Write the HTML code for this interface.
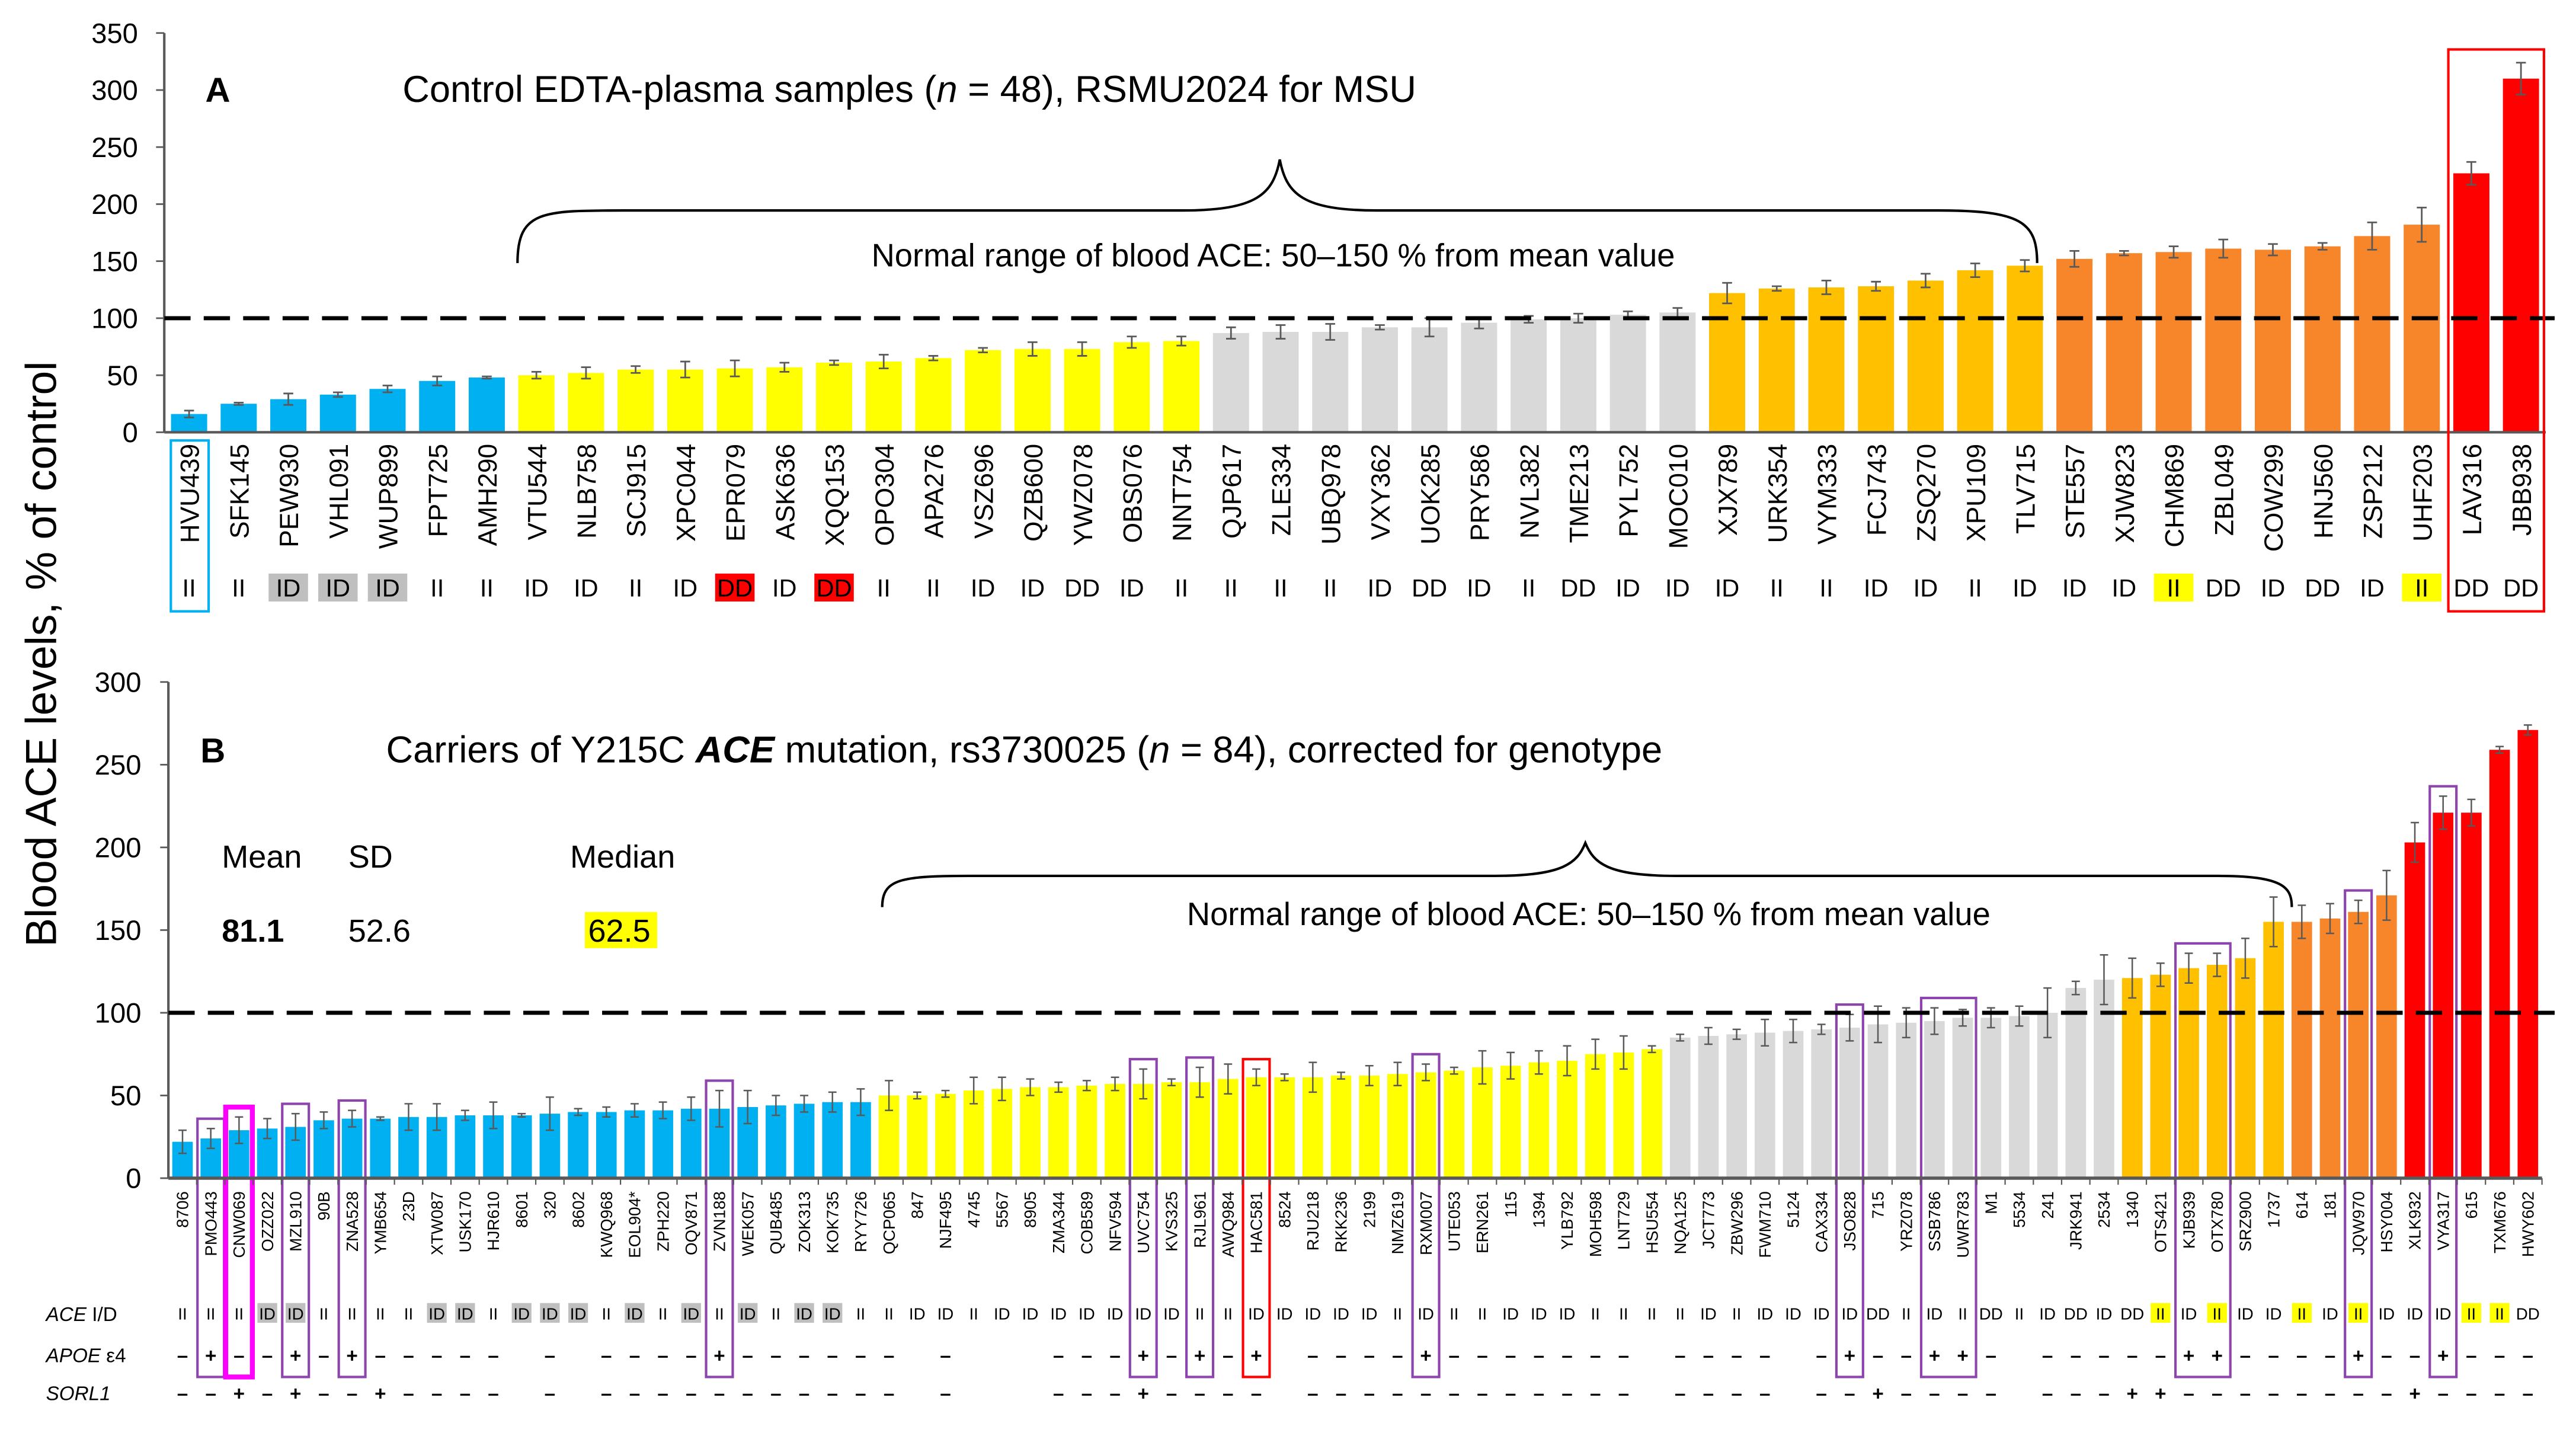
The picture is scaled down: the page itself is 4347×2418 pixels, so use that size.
<!DOCTYPE html>
<html><head><meta charset="utf-8"><style>
html,body{margin:0;padding:0;background:#fff;}
svg{display:block;font-family:"Liberation Sans",Arial,sans-serif;}
</style></head><body>
<svg id="chart" width="4347" height="2418" viewBox="0 0 1568 872" xmlns="http://www.w3.org/2000/svg">
<rect width="1568" height="872" fill="#fff"/>
<text transform="translate(34,398) rotate(-90)" text-anchor="middle" font-size="26.4" fill="#000">Blood ACE levels, % of control</text>
<g id="pA"></g><g id="pB"></g>
</svg>
<script>
const NS="http://www.w3.org/2000/svg";
// ---------- Panel A data ----------
const catsA=["HVU439","SFK145","PEW930","VHL091","WUP899","FPT725","AMH290","VTU544","NLB758","SCJ915","XPC044","EPR079","ASK636","XQQ153","OPO304","APA276","VSZ696","QZB600","YWZ078","OBS076","NNT754","QJP617","ZLE334","UBQ978","VXY362","UOK285","PRY586","NVL382","TME213","PYL752","MOC010","XJX789","URK354","VYM333","FCJ743","ZSQ270","XPU109","TLV715","STE557","XJW823","CHM869","ZBL049","COW299","HNJ560","ZSP212","UHF203","LAV316","JBB938"];
const valsA=[16,25,29,33,38,45,48,50,52,55,55,56,57,61,62,65,72,73,73,79,80,87,88,88,92,92,96,99,100,103,105,122,126,127,128,133,142,146,152,157,158,161,160,163,172,182,227,310];
const errsA=[3,1,5,2,3,4,1,3,5,3,7,7,4,2,6,2,2,6,6,5,4,5,6,7,2,8,5,3,4,3,4,9,2,6,4,6,6,5,7,2,5,8,5,3,12,15,10,14];
const grpA="BBBBBBBYYYYYYYYYYYYYYGGGGGGGGGGOOOOOOORRRRRRRRXX";
const genoA=["II","II","ID","ID","ID","II","II","ID","ID","II","ID","DD","ID","DD","II","II","ID","ID","DD","ID","II","II","II","II","ID","DD","ID","II","DD","ID","ID","ID","II","II","ID","ID","II","ID","ID","ID","II","DD","ID","DD","ID","II","DD","DD"];
const hlA=["","","g","g","g","","","","","","","r","","r","","","","","","","","","","","","","","","","","","","","","","","","","","","y","","","","","y","",""];
const ticksA=[0,50,100,150,200,250,300,350];
// ---------- Panel B data ----------
const catsB=["8706","PMO443","CNW069","OZZ022","MZL910","90B","ZNA528","YMB654","23D","XTW087","USK170","HJR610","8601","320","8602","KWQ968","EOL904*","ZPH220","OQV871","ZVN188","WEK057","QUB485","ZOK313","KOK735","RYY726","QCP065","847","NJF495","4745","5567","8905","ZMA344","COB589","NFV594","UVC754","KVS325","RJL961","AWQ984","HAC581","8524","RJU218","RKK236","2199","NMZ619","RXM007","UTE053","ERN261","115","1394","YLB792","MOH598","LNT729","HSU554","NQA125","JCT773","ZBW296","FWM710","5124","CAX334","JSO828","715","YRZ078","SSB786","UWR783","M1","5534","241","JRK941","2534","1340","OTS421","KJB939","OTX780","SRZ900","1737","614","181","JQW970","HSY004","XLK932","VYA317","615","TXM676","HWY602"];
const valsB=[22,24,29,30,31,35,36,36,37,37,38,38,38,39,40,40,41,41,42,42,43,44,45,46,46,50,50,51,53,54,55,55,56,57,57,58,58,60,61,61,61,62,62,63,64,65,67,68,70,71,75,76,78,85,86,87,88,89,90,91,93,94,95,97,97,98,100,115,120,121,123,127,129,133,155,155,157,161,171,203,221,221,259,271];
const errsB=[7,6,8,6,8,5,5,1,8,8,3,8,1,10,2,3,4,5,7,11,10,6,5,6,8,9,2,2,8,7,5,3,3,4,9,2,9,9,5,2,9,2,6,7,5,2,10,8,7,9,9,10,2,2,5,3,8,7,3,8,11,9,8,5,6,6,15,4,15,12,7,9,7,12,15,10,9,7,15,12,10,8,2,3];
const grpB="BBBBBBBBBBBBBBBBBBBBBBBBBYYYYYYYYYYYYYYYYYYYYYYYYYYYYGGGGGGGGGGGGGGGGOOOOOORRRRXXXXX";
const aceB=["II","II","II","ID","ID","II","II","II","II","ID","ID","II","ID","ID","ID","II","ID","II","ID","II","ID","II","ID","ID","II","II","ID","ID","II","ID","ID","ID","ID","ID","ID","ID","II","II","ID","ID","ID","ID","ID","II","ID","II","II","ID","ID","ID","II","II","II","II","ID","II","ID","ID","ID","ID","DD","II","ID","II","DD","II","ID","DD","ID","DD","II","ID","II","ID","ID","II","ID","II","ID","ID","ID","II","II","DD"];
const aceHlB=["","","","g","g","","","","","g","g","","g","g","g","","g","","g","","g","","g","g","","","","","","","","","","","","","","","","","","","","","","","","","","","","","","","","","","","","","","","","","","","","","","","y","","y","","","y","","y","","","","y","y",""];
const apoeB=["-","+","-","-","+","-","+","-","-","-","-","-","","-","","-","-","-","-","+","-","-","-","-","-","-","","-","","","","-","-","-","+","-","+","-","+","","-","-","-","-","+","-","-","-","-","-","-","-","","-","-","-","-","","-","+","-","-","+","+","-","","-","-","-","-","-","+","+","-","-","-","-","+","-","-","+","-","-","-"];
const sorlB=["-","-","+","-","+","-","-","+","-","-","-","-","","-","","-","-","-","-","-","-","-","-","-","-","-","","-","","","","-","-","-","+","-","-","-","-","","-","-","-","-","-","-","-","-","-","-","-","-","","-","-","-","-","","-","-","+","-","-","-","-","","-","-","-","+","+","-","-","-","-","-","-","-","-","+","-","-","-","-"];
const boxesB=[[1,1,"#8E44AD"],[2,2,"#FF00FF"],[4,4,"#8E44AD"],[6,6,"#8E44AD"],[19,19,"#8E44AD"],[34,34,"#8E44AD"],[36,36,"#8E44AD"],[38,38,"#FF0000"],[44,44,"#8E44AD"],[59,59,"#8E44AD"],[62,63,"#8E44AD"],[71,72,"#8E44AD"],[77,77,"#8E44AD"],[80,80,"#8E44AD"]];
const ticksB=[0,50,100,150,200,250,300];

const COL={B:"#00B0F0",Y:"#FFFF00",G:"#D9D9D9",O:"#FFC000",R:"#F7862A",X:"#FF0000"};
const HL={g:"#BFBFBF",r:"#FF0000",y:"#FFFF00"};

function el(tag,attrs,parent,txt){const e=document.createElementNS(NS,tag);for(const k in attrs)e.setAttribute(k,attrs[k]);if(txt!==undefined)e.textContent=txt;parent.appendChild(e);return e;}

// ---------- Panel A ----------
(function(){
const g=document.getElementById("pA");
const x0=100,step=30.2,y0=263,ppu=243/350,bw=22;
const xA=i=>x0+step*(i+0.5), yA=v=>y0-v*ppu;
ticksA.forEach(t=>{
 const tl=el("text",{x:84,y:yA(t)+6,"text-anchor":"end","font-size":17,fill:"#000"},g,String(t));
 
 
 el("line",{x1:x0-5,x2:x0,y1:yA(t),y2:yA(t),stroke:"#595959","stroke-width":1},g);
});
catsA.forEach((c,i)=>{
 const v=valsA[i],e=errsA[i],cx=xA(i);
 const r=el("rect",{x:cx-bw/2,y:yA(v),width:bw,height:y0-yA(v),fill:COL[grpA[i]]},g);
 
 
 el("path",{d:`M${cx},${yA(v+e)}V${yA(v-e)}M${cx-3},${yA(v+e)}H${cx+3}M${cx-3},${yA(v-e)}H${cx+3}`,stroke:"#595959","stroke-width":1,fill:"none"},g);
 const t=el("text",{transform:`translate(${cx+6},270) rotate(-90)`,"text-anchor":"end","font-size":16,fill:"#000"},g,c);
 
 
 if(hlA[i]) el("rect",{x:cx-12,y:349,width:24,height:17,fill:HL[hlA[i]]},g);
 const gt=el("text",{x:cx,y:363,"text-anchor":"middle","font-size":15,fill:"#000"},g,genoA[i]);
 
 
});
el("line",{x1:x0,x2:x0,y1:20,y2:y0,stroke:"#595959","stroke-width":1.5},g);
el("line",{x1:x0,x2:x0+step*48,y1:y0,y2:y0,stroke:"#595959","stroke-width":1.5},g);
el("line",{x1:x0,x2:1555,y1:yA(100),y2:yA(100),stroke:"#000","stroke-width":2.5,"stroke-dasharray":"16,8"},g);
el("rect",{x:104,y:268,width:23,height:104,fill:"none",stroke:"#00B0F0","stroke-width":1.5},g);
el("rect",{x:xA(46)-14,y:30,width:xA(47)-xA(46)+28,height:342,fill:"none",stroke:"#FF0000","stroke-width":1.5},g);
const a=el("text",{x:125,y:62,"font-size":21,"font-weight":"bold"},g,"A");
const tt=el("text",{x:245,y:62,"font-size":22.8},g);
tt.innerHTML='Control EDTA-plasma samples (<tspan font-style="italic">n</tspan> = 48), RSMU2024 for MSU';
el("path",{d:"M315,160 C315,128 330,128 380,128 L720,128 C765,128 775,118 779,97 C783,118 793,128 838,128 L1180,128 C1230,128 1240,135 1240,160",fill:"none",stroke:"#000","stroke-width":1.5},g);
const nr=el("text",{x:775,y:162,"text-anchor":"middle","font-size":19.6},g,"Normal range of blood ACE: 50–150 % from mean value");
})();

// ---------- Panel B ----------
(function(){
const g=document.getElementById("pB");
const x0=102.5,step=17.2,y0=717,ppu=302/300,bw=12.5;
const xB=i=>x0+step*(i+0.5), yB=v=>y0-v*ppu;
ticksB.forEach(t=>{
 const tl=el("text",{x:86,y:yB(t)+6,"text-anchor":"end","font-size":17,fill:"#000"},g,String(t));
 
 
 el("line",{x1:x0-5,x2:x0,y1:yB(t),y2:yB(t),stroke:"#595959","stroke-width":1},g);
});
boxesB.forEach(b=>{
 let top=1e9;for(let i=b[0];i<=b[1];i++)top=Math.min(top,yB(valsB[i]+errsB[i])-6);
 const l=xB(b[0])-step/2+0.5,r=xB(b[1])+step/2-0.5;
 const bx=el("rect",{x:l,y:top,width:r-l,height:838-top,fill:"none",stroke:b[2],"stroke-width":b[2]=="#FF00FF"?3:1.5},g);
 
 
});
catsB.forEach((c,i)=>{
 const v=valsB[i],e=errsB[i],cx=xB(i);
 const r=el("rect",{x:cx-bw/2,y:yB(v),width:bw,height:y0-yB(v),fill:COL[grpB[i]]},g);
 
 
 el("path",{d:`M${cx},${yB(v+e)}V${yB(v-e)}M${cx-2.5},${yB(v+e)}H${cx+2.5}M${cx-2.5},${yB(v-e)}H${cx+2.5}`,stroke:"#595959","stroke-width":0.9,fill:"none"},g);
 el("line",{x1:cx+step/2,x2:cx+step/2,y1:y0,y2:y0+4,stroke:"#595959","stroke-width":0.8},g);
 const t=el("text",{transform:`translate(${cx+3.5},725) rotate(-90)`,"text-anchor":"end","font-size":10,fill:"#000"},g,c);
 
 
 if(aceHlB[i]) el("rect",{x:cx-6,y:793,width:12,height:12,fill:HL[aceHlB[i]]},g);
 const at=el("text",{x:cx,y:803,"text-anchor":"middle","font-size":10,fill:"#000"},g,aceB[i]);
 
 
 if(apoeB[i]){const p=el("text",{x:cx,y:829,"text-anchor":"middle","font-size":12,"font-weight":"bold",fill:"#000"},g,apoeB[i]=="-"?"–":"+");
  }
 if(sorlB[i]){const p=el("text",{x:cx,y:852,"text-anchor":"middle","font-size":12,"font-weight":"bold",fill:"#000"},g,sorlB[i]=="-"?"–":"+");
  }
});
el("line",{x1:x0,x2:x0,y1:415,y2:y0,stroke:"#595959","stroke-width":1.5},g);
el("line",{x1:x0,x2:x0+step*84,y1:y0,y2:y0,stroke:"#595959","stroke-width":2},g);
el("line",{x1:x0,x2:1555,y1:yB(100),y2:yB(100),stroke:"#000","stroke-width":2.5,"stroke-dasharray":"16,8"},g);
const rl=[["ACE"," I/D",804],["APOE"," ε4",829],["SORL1","",852]];
rl.forEach(r=>{const t=el("text",{x:28,y:r[2],"font-size":12},g);
 t.innerHTML=`<tspan font-style="italic">${r[0]}</tspan>${r[1]}`;});
const b=el("text",{x:122,y:464,"font-size":21,"font-weight":"bold"},g,"B");
const tt=el("text",{x:235,y:464,"font-size":22.8},g);
tt.innerHTML='Carriers of Y215C <tspan font-weight="bold" font-style="italic">ACE</tspan> mutation, rs3730025 (<tspan font-style="italic">n</tspan> = 84), corrected for genotype';
[["Mean",135],["SD",212],["Median",347]].forEach(s=>{const t=el("text",{x:s[1],y:528,"font-size":19.5},g,s[0]);});
el("rect",{x:356,y:555,width:44,height:22,fill:"#FFFF00"},g);
[["81.1",135,"bold"],["52.6",212,"normal"],["62.5",358,"normal"]].forEach(s=>{const t=el("text",{x:s[1],y:573,"font-size":19.5,"font-weight":s[2]},g,s[0]);});
el("path",{d:"M537,552 C537,535 548,533 590,533 L910,533 C952,533 960,525 965,513 C970,525 978,533 1020,533 L1350,533 C1390,533 1395,540 1395,552",fill:"none",stroke:"#000","stroke-width":1.5},g);
const nr=el("text",{x:967,y:563,"text-anchor":"middle","font-size":19.6},g,"Normal range of blood ACE: 50–150 % from mean value");
})();
</script>
</body></html>
